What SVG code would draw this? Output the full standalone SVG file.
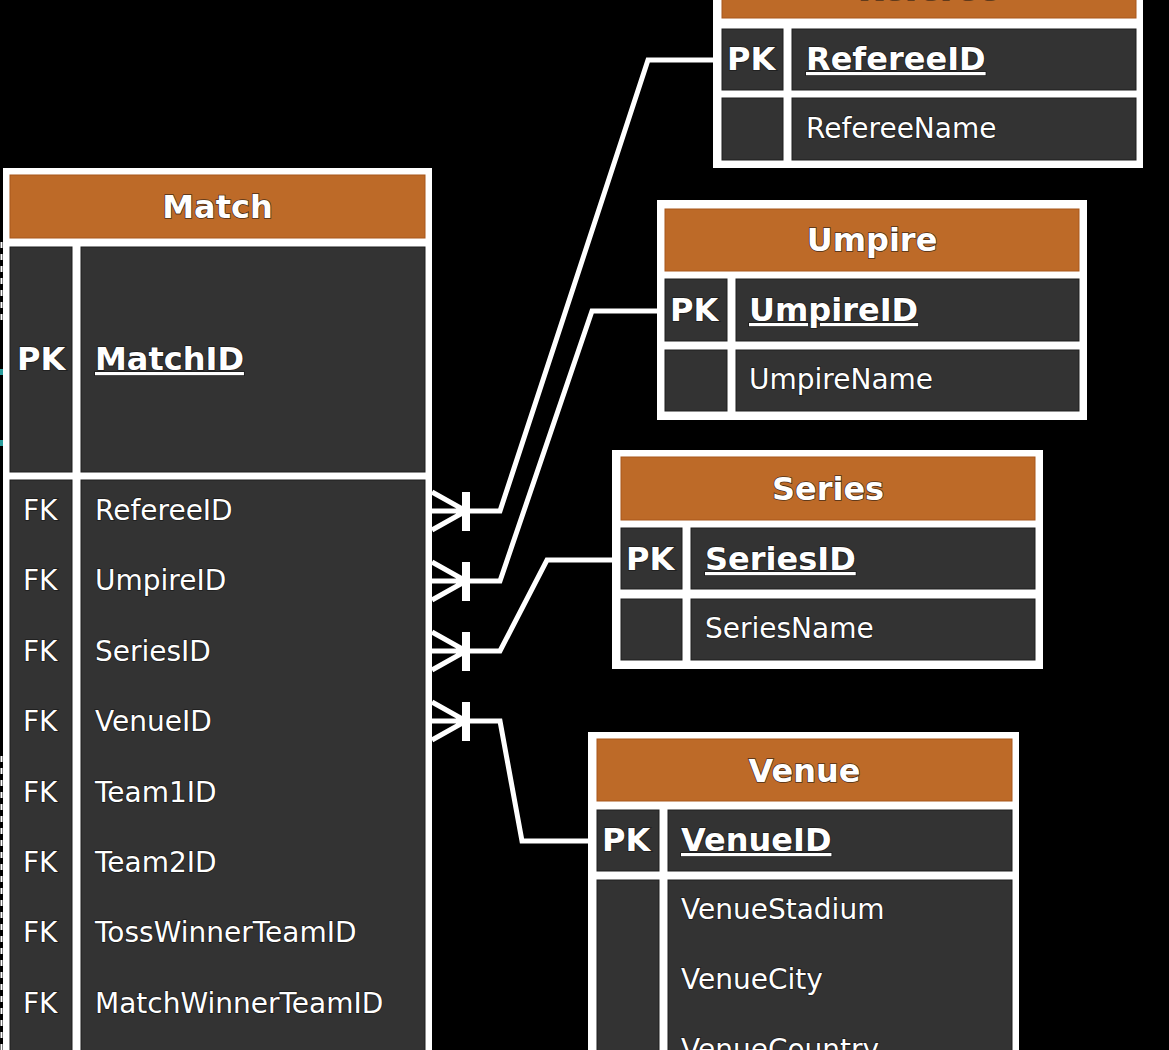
<svg xmlns="http://www.w3.org/2000/svg" width="1169" height="1050" viewBox="0 0 1169 1050">
<style>
.frame{fill:#ffffff}
.head{fill:#BD6A28;stroke:#A8561A;stroke-width:1}
.cell{fill:#333333;stroke:#1e1e1e;stroke-width:1}
.t{font-family:"DejaVu Sans",Verdana,sans-serif;fill:#ffffff;stroke:#111111;stroke-width:1.6;stroke-opacity:0.7;paint-order:stroke}
.title{font-size:32px;font-weight:bold;text-anchor:middle}
.key{font-size:32px;font-weight:bold}
.pkf{font-size:32px;font-weight:bold;text-decoration:underline}
.fld{font-size:28px}
.conn{fill:none;stroke:#ffffff;stroke-width:5;stroke-linejoin:miter}
.bar{stroke:#ffffff;stroke-width:8}
</style>
<rect x="0" y="0" width="1169" height="1050" fill="#000000"/>
<g id="edge-marks">
<line x1="1.5" y1="242" x2="1.5" y2="322" stroke="#ffffff" stroke-width="2" stroke-dasharray="6 6"/>
<line x1="1.5" y1="756" x2="1.5" y2="1050" stroke="#ffffff" stroke-width="2" stroke-dasharray="6 6"/>
<rect x="0" y="369" width="5" height="6" fill="#2a9d9d"/>
<rect x="0" y="440" width="5" height="6" fill="#2a9d9d"/>
</g>
<g id="connectors">
<path class="conn" d="M432 492 L466 511 L432 530 M432 511 L500 511 L648 60 L716 60"/>
<line class="bar" x1="466" y1="492" x2="466" y2="531"/>
<path class="conn" d="M432 562 L466 581 L432 600 M432 581 L500 581 L592 311 L660 311"/>
<line class="bar" x1="466" y1="562" x2="466" y2="601"/>
<path class="conn" d="M432 632 L466 651 L432 670 M432 651 L500 651 L547 560 L615 560"/>
<line class="bar" x1="466" y1="632" x2="466" y2="671"/>
<path class="conn" d="M432 702 L466 721 L432 740 M432 721 L500 721 L522 841 L591 841"/>
<line class="bar" x1="466" y1="702" x2="466" y2="741"/>
</g>
<g id="match">
<rect class="frame" x="3" y="168" width="429" height="890"/>
<rect class="head" x="10" y="175" width="415" height="63"/>
<text class="t title" x="217.5" y="218">Match</text>
<rect class="cell" x="10" y="247" width="62" height="225"/>
<rect class="cell" x="81" y="247" width="344" height="225"/>
<text class="t key" x="17" y="370">PK</text>
<text class="t pkf" x="95" y="370">MatchID</text>
<rect class="cell" x="10" y="480" width="62" height="580"/>
<rect class="cell" x="81" y="480" width="344" height="580"/>
<text class="t fld" x="23" y="520">FK</text><text class="t fld" x="95" y="520">RefereeID</text>
<text class="t fld" x="23" y="590">FK</text><text class="t fld" x="95" y="590">UmpireID</text>
<text class="t fld" x="23" y="661">FK</text><text class="t fld" x="95" y="661">SeriesID</text>
<text class="t fld" x="23" y="731">FK</text><text class="t fld" x="95" y="731">VenueID</text>
<text class="t fld" x="23" y="802">FK</text><text class="t fld" x="95" y="802">Team1ID</text>
<text class="t fld" x="23" y="872">FK</text><text class="t fld" x="95" y="872">Team2ID</text>
<text class="t fld" x="23" y="942">FK</text><text class="t fld" x="95" y="942">TossWinnerTeamID</text>
<text class="t fld" x="23" y="1013">FK</text><text class="t fld" x="95" y="1013">MatchWinnerTeamID</text>
</g>
<g id="referee">
<rect class="frame" x="713" y="-52" width="430" height="220"/>
<rect class="head" x="722" y="-44" width="414" height="62"/>
<text class="t title" x="929" y="0">Referee</text>
<rect class="cell" x="722" y="29" width="61" height="61"/>
<rect class="cell" x="792" y="29" width="344" height="61"/>
<text class="t key" x="727" y="70">PK</text>
<text class="t pkf" x="806" y="70">RefereeID</text>
<rect class="cell" x="722" y="98" width="61" height="62"/>
<rect class="cell" x="792" y="98" width="344" height="62"/>
<text class="t fld" x="806" y="138">RefereeName</text>
</g>
<g id="umpire">
<rect class="frame" x="657" y="200" width="430" height="220"/>
<rect class="head" x="665" y="209" width="414" height="62"/>
<text class="t title" x="872" y="251">Umpire</text>
<rect class="cell" x="665" y="279" width="62" height="62"/>
<rect class="cell" x="736" y="279" width="343" height="62"/>
<text class="t key" x="670" y="321">PK</text>
<text class="t pkf" x="749" y="321">UmpireID</text>
<rect class="cell" x="665" y="350" width="62" height="61"/>
<rect class="cell" x="736" y="350" width="343" height="61"/>
<text class="t fld" x="749" y="389">UmpireName</text>
</g>
<g id="series">
<rect class="frame" x="612" y="450" width="431" height="219"/>
<rect class="head" x="621" y="457" width="414" height="63"/>
<text class="t title" x="828" y="500">Series</text>
<rect class="cell" x="621" y="528" width="61" height="61"/>
<rect class="cell" x="691" y="528" width="344" height="61"/>
<text class="t key" x="626" y="570">PK</text>
<text class="t pkf" x="705" y="570">SeriesID</text>
<rect class="cell" x="621" y="599" width="61" height="61"/>
<rect class="cell" x="691" y="599" width="344" height="61"/>
<text class="t fld" x="705" y="638">SeriesName</text>
</g>
<g id="venue">
<rect class="frame" x="588" y="732" width="431" height="330"/>
<rect class="head" x="597" y="739" width="415" height="62"/>
<text class="t title" x="804.5" y="782">Venue</text>
<rect class="cell" x="597" y="810" width="62" height="61"/>
<rect class="cell" x="668" y="810" width="344" height="61"/>
<text class="t key" x="602" y="851">PK</text>
<text class="t pkf" x="681" y="851">VenueID</text>
<rect class="cell" x="597" y="880" width="62" height="180"/>
<rect class="cell" x="668" y="880" width="344" height="180"/>
<text class="t fld" x="681" y="919">VenueStadium</text>
<text class="t fld" x="681" y="989">VenueCity</text>
<text class="t fld" x="681" y="1059">VenueCountry</text>
</g>
</svg>
